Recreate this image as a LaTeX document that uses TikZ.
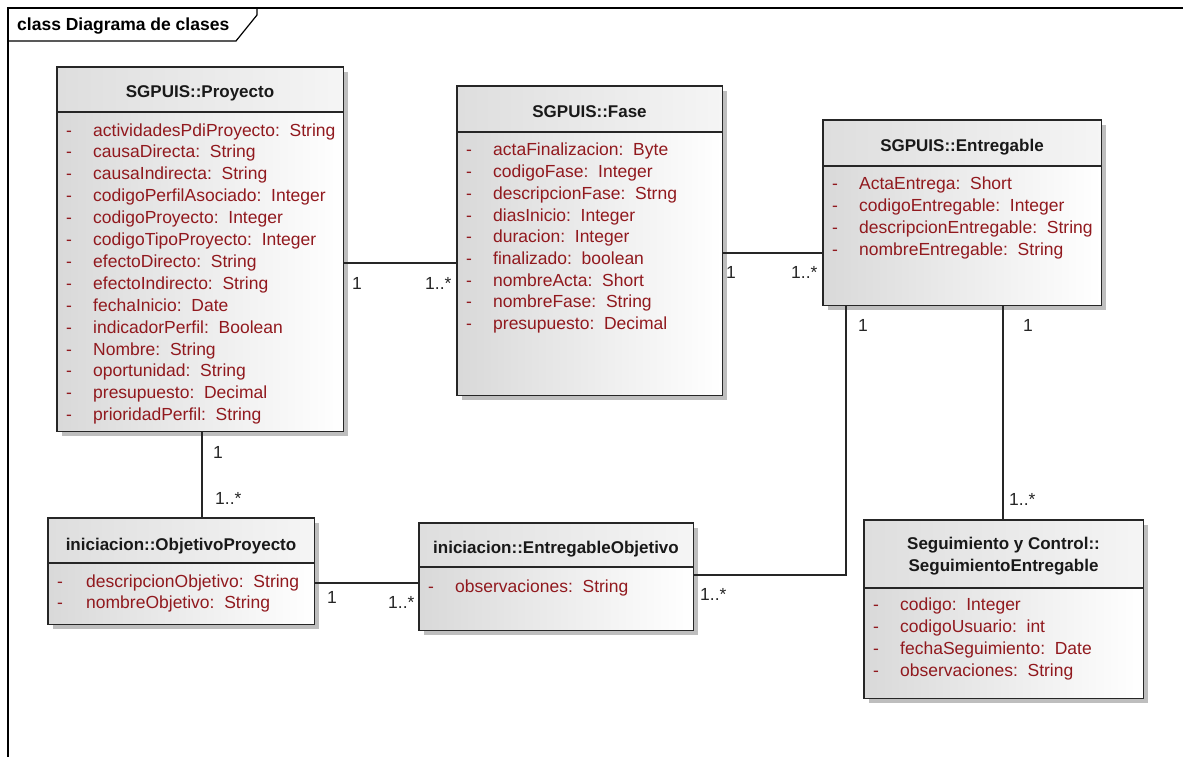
\documentclass[tikz,border=0pt]{standalone}
\usepackage{fontspec}
\setmainfont{Liberation Sans}
\usetikzlibrary{shadows}
\definecolor{attrred}{RGB}{145,25,30}
\definecolor{shadowgray}{RGB}{190,190,190}
\newcommand\umlbox[6]{% name, x, y, width, height, header height
  \node[classbody, minimum width=#4pt, minimum height=#5pt] (#1) at (#2,#3) {};
  \shade[left color=black!13, right color=black!4] (#1.north west) rectangle ([yshift=-#6pt]#1.north east);
  \draw[boxline] (#1.north west) rectangle (#1.south east);
  \draw[boxline] ([yshift=-#6pt]#1.north west) -- ([yshift=-#6pt]#1.north east);
}
\begin{document}
\begin{tikzpicture}[x=1pt,y=-1pt,
  classbody/.style={anchor=north west, inner sep=0pt, left color=black!15, right color=white,
    drop shadow={shadow xshift=4.5pt, shadow yshift=-4.5pt, fill=shadowgray, opacity=1}},
  boxline/.style={draw=black!85, line width=1.4pt},
  conn/.style={draw=black!85, line width=1.4pt},
  title/.style={anchor=base, inner sep=0pt, font=\fontsize{17}{22}\selectfont\bfseries, text=black!90},
  attr/.style={anchor=base west, inner sep=0pt, font=\fontsize{17.5}{22}\selectfont, text=attrred},
  mult/.style={anchor=base west, inner sep=0pt, font=\fontsize{17.5}{22}\selectfont, text=black!85}]
\useasboundingbox (0,0) rectangle (1183,757);
\fill[white] (0,0) rectangle (1183,757);

% diagram frame and its name tab
\draw[line width=1.2pt] (8,757) -- (8,8) -- (1183,8);
\draw[line width=1.2pt] (8,41) -- (236,41) -- (257,15) -- (257,8);
\node[anchor=base west, inner sep=0pt, font=\fontsize{17.5}{22}\selectfont\bfseries] (frametitle) at (17,31) {class Diagrama de clases};

% classes
\umlbox{proy}{57}{67}{286}{364}{45}
\node[title] (proy-t) at (200,98) {SGPUIS::Proyecto};
\foreach \t [count=\i] in {actividadesPdiProyecto:~~String, causaDirecta:~~String, causaIndirecta:~~String,
  codigoPerfilAsociado:~~Integer, codigoProyecto:~~Integer, codigoTipoProyecto:~~Integer,
  efectoDirecto:~~String, efectoIndirecto:~~String, fechaInicio:~~Date, indicadorPerfil:~~Boolean,
  Nombre:~~String, oportunidad:~~String, presupuesto:~~Decimal, prioridadPerfil:~~String} {
  \node[attr] (proy-d\i) at (66,{136+21.9*(\i-1)}) {-};
  \node[attr] (proy-a\i) at (93,{136+21.9*(\i-1)}) {\t};
}

\umlbox{fase}{457}{86}{265}{309}{46}
\node[title] (fase-t) at (589.5,118) {SGPUIS::Fase};
\foreach \t [count=\i] in {actaFinalizacion:~~Byte, codigoFase:~~Integer, descripcionFase:~~Strng,
  diasInicio:~~Integer, duracion:~~Integer, finalizado:~~boolean, nombreActa:~~Short,
  nombreFase:~~String, presupuesto:~~Decimal} {
  \node[attr] (fase-d\i) at (466,{156+21.7*(\i-1)}) {-};
  \node[attr] (fase-a\i) at (493,{156+21.7*(\i-1)}) {\t};
}

\umlbox{entr}{823}{120}{278}{185}{46}
\node[title] (entr-t) at (962,152) {SGPUIS::Entregable};
\foreach \t [count=\i] in {ActaEntrega:~~Short, codigoEntregable:~~Integer,
  descripcionEntregable:~~String, nombreEntregable:~~String} {
  \node[attr] (entr-d\i) at (832,{189+22*(\i-1)}) {-};
  \node[attr] (entr-a\i) at (859,{189+22*(\i-1)}) {\t};
}

\umlbox{obj}{48}{518}{266}{106}{45}
\node[title] (obj-t) at (181,550) {iniciacion::ObjetivoProyecto};
\foreach \t [count=\i] in {descripcionObjetivo:~~String, nombreObjetivo:~~String} {
  \node[attr] (obj-d\i) at (57,{587+21*(\i-1)}) {-};
  \node[attr] (obj-a\i) at (86,{587+21*(\i-1)}) {\t};
}

\umlbox{eobj}{419}{523}{274}{107}{44}
\node[title] (eobj-t) at (556,553) {iniciacion::EntregableObjetivo};
\node[attr] (eobj-d1) at (428,592) {-};
\node[attr] (eobj-a1) at (455,592) {observaciones:~~String};

\umlbox{seg}{864}{520}{279}{178}{68}
\node[title] (seg-t1) at (1003.5,549) {Seguimiento y Control::};
\node[title] (seg-t2) at (1003.5,571) {SeguimientoEntregable};
\foreach \t [count=\i] in {codigo:~~Integer, codigoUsuario:~~int,
  fechaSeguimiento:~~Date, observaciones:~~String} {
  \node[attr] (seg-d\i) at (873,{610+22*(\i-1)}) {-};
  \node[attr] (seg-a\i) at (900,{610+22*(\i-1)}) {\t};
}

% associations
\draw[conn] (proy.east |- 0,263) -- (fase.west |- 0,263);
\node[mult] (m1) at (352,289) {1};
\node[mult] (m2) at (425,289) {1..*};

\draw[conn] (fase.east |- 0,253) -- (entr.west |- 0,253);
\node[mult] (m3) at (726,278) {1};
\node[mult] (m4) at (791,278) {1..*};

\draw[conn] (proy.south -| 202,0) -- (obj.north -| 202,0);
\node[mult] (m5) at (213,458) {1};
\node[mult] (m6) at (215,504) {1..*};

\draw[conn] (obj.east |- 0,583) -- (eobj.west |- 0,583);
\node[mult] (m7) at (327,603) {1};
\node[mult] (m8) at (388,608) {1..*};

\draw[conn] (eobj.east |- 0,575) -| (entr.south -| 846,0);
\node[mult] (m9) at (700,600) {1..*};
\node[mult] (m10) at (858,331) {1};

\draw[conn] (entr.south -| 1003,0) -- (seg.north -| 1003,0);
\node[mult] (m11) at (1023,331) {1};
\node[mult] (m12) at (1009,505) {1..*};
\end{tikzpicture}
\end{document}
